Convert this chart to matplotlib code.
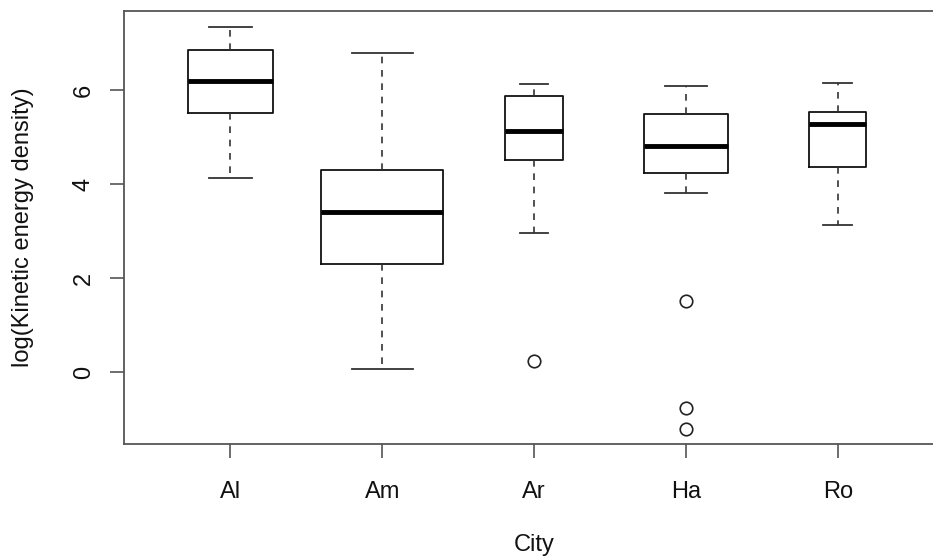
import matplotlib
matplotlib.use("Agg")
import matplotlib.pyplot as plt

plt.rcParams['font.family'] = ['Liberation Sans', 'DejaVu Sans']

cities = ["Al", "Am", "Ar", "Ha", "Ro"]
whisker_low = [4.14, 0.07, 2.96, 3.81, 3.13]
q1 = [5.51, 2.30, 4.52, 4.23, 4.36]
median = [6.20, 3.40, 5.14, 4.81, 5.28]
q3 = [6.86, 4.30, 5.89, 5.50, 5.53]
whisker_high = [7.35, 6.79, 6.13, 6.09, 6.16]
outliers = [[], [], [0.24], [1.52, -0.77, -1.21], []]
y_ticks = [0, 2, 4, 6]

box_widths = [0.56, 0.80, 0.38, 0.55, 0.375]

stats = []
for i, name in enumerate(cities):
    stats.append(dict(label=name, whislo=whisker_low[i], q1=q1[i], med=median[i],
                      q3=q3[i], whishi=whisker_high[i], fliers=outliers[i]))

fig = plt.figure(figsize=(9.33, 5.58), dpi=100)
ax = fig.add_axes([124/933, 114/558, 820/933, 433/558])

ax.bxp(stats, positions=range(1, len(cities) + 1), widths=box_widths,
       boxprops=dict(color='#111111', linewidth=1.3),
       medianprops=dict(color='black', linewidth=3.5),
       whiskerprops=dict(color='#333333', linewidth=1.2, linestyle=(0, (4, 4))),
       capprops=dict(color='#333333', linewidth=1.3),
       flierprops=dict(marker='o', markerfacecolor='none', markeredgecolor='#222222',
                       markersize=9, markeredgewidth=1.2),
       capwidths=[w / 2 for w in box_widths])

ax.set_xlim(0.3, 5.7)
ax.set_ylim(-1.53, 7.69)
ax.set_yticks(y_ticks)
ax.set_yticklabels([str(v) for v in y_ticks], rotation=90, va='center')
ax.set_xticks(range(1, len(cities) + 1))
ax.set_xticklabels(cities)

for s in ax.spines.values():
    s.set_color('#555555')
    s.set_linewidth(1.3)

ax.tick_params(axis='both', direction='out', length=10, width=1.2, color='#555555',
               labelsize=17, labelcolor='#111111')
ax.tick_params(axis='x', pad=17)
ax.tick_params(axis='y', pad=11)

ax.set_xlabel("City", fontsize=17, color='#111111', labelpad=22)
ax.set_ylabel("log(Kinetic energy density)", fontsize=17, color='#111111', labelpad=28)

fig.savefig("out.png", dpi=100)
